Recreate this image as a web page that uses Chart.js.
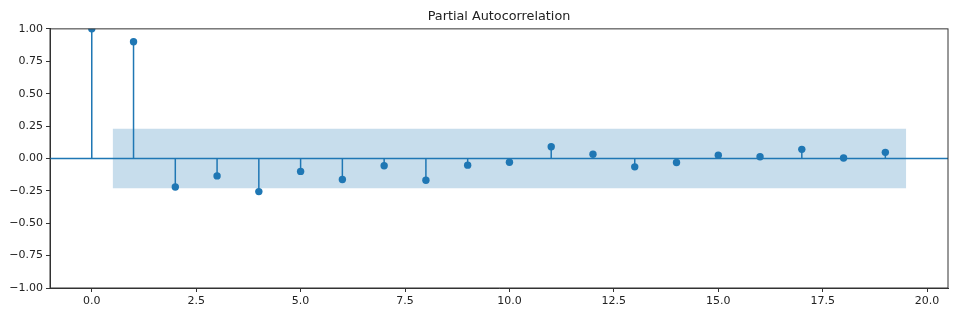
<!DOCTYPE html>
<html>
<head>
<meta charset="utf-8">
<script src="https://cdn.jsdelivr.net/npm/chart.js@4"></script>
<style>
  html, body { margin: 0; padding: 0; background: #fff; }
  #wrap { width: 957px; height: 318px; }
</style>
</head>
<body>
<div id="wrap"><canvas id="chart-pacf"></canvas></div>
<script>
// PACF values per lag
const lags = [0, 1, 2, 3, 4, 5, 6, 7, 8, 9, 10, 11, 12, 13, 14, 15, 16, 17, 18, 19];
const pacfValues = [1.0, 0.90, -0.22, -0.135, -0.256, -0.10, -0.163, -0.057, -0.168, -0.052,
    -0.029, 0.09, 0.033, -0.065, -0.031, 0.024, 0.013, 0.07, 0.003, 0.047];

// confidence band (spans lag 0.5 .. 19.5)
const bandX = [0.5, 19.5];
const bandUpper = [0.23, 0.23];
const bandLower = -0.23;

const xTickValues = [0, 2.5, 5, 7.5, 10, 12.5, 15, 17.5, 20];
const yTickValues = [-1, -0.75, -0.5, -0.25, 0, 0.25, 0.5, 0.75, 1];
const xRange = [-1, 20.5];
const yRange = [-1, 1];

const blue = '#1f77b4';
const fmt = (v, d) => v.toFixed(d).replace('-', '\u2212');

// stems: (lag,0) -> (lag,value), broken by null points
const stemPoints = lags.flatMap((x, i) => [{ x: x, y: 0 }, { x: x, y: pacfValues[i] }, { x: x, y: null }]);

// top/right spines (matplotlib draws a full frame)
const framePlugin = {
    id: 'frame',
    afterDraw(chart) {
        const { ctx, chartArea: a } = chart;
        ctx.save();
        ctx.strokeStyle = '#333';
        ctx.lineWidth = 1;
        ctx.strokeRect(a.left, a.top, a.right - a.left, a.bottom - a.top);
        ctx.restore();
    },
};

new Chart(document.getElementById('chart-pacf'), {
    type: 'scatter',
    data: {
        datasets: [
            {
                data: bandX.map((x, i) => ({ x: x, y: bandUpper[i] })),
                showLine: true,
                borderWidth: 0,
                pointRadius: 0,
                backgroundColor: 'rgba(31, 119, 180, 0.25)',
                fill: { value: bandLower },
                order: 4,
            },
            {
                data: [{ x: xRange[0], y: 0 }, { x: xRange[1], y: 0 }],
                showLine: true,
                borderColor: blue,
                borderWidth: 1.5,
                pointRadius: 0,
                order: 3,
            },
            {
                data: stemPoints,
                showLine: true,
                spanGaps: false,
                borderColor: blue,
                borderWidth: 1.5,
                pointRadius: 0,
                order: 2,
            },
            {
                data: lags.map((x, i) => ({ x: x, y: pacfValues[i] })),
                showLine: false,
                pointRadius: 3.7,
                pointBorderWidth: 0,
                backgroundColor: blue,
                borderColor: blue,
                order: 1,
            },
        ],
    },
    options: {
        responsive: true,
        maintainAspectRatio: false,
        animation: false,
        layout: { padding: { left: 0, right: 9, top: 0, bottom: 0 } },
        plugins: {
            legend: { display: false },
            tooltip: { enabled: false },
            title: {
                display: true,
                text: 'Partial Autocorrelation',
                fullSize: false,
                color: '#222',
                font: { family: 'DejaVu Sans', size: 12.8, weight: 'normal' },
                padding: { top: 8.5, bottom: 5 },
            },
        },
        scales: {
            x: {
                type: 'linear',
                min: xRange[0],
                max: xRange[1],
                afterBuildTicks: scale => { scale.ticks = xTickValues.map(v => ({ value: v })); },
                afterFit: scale => { scale.height = 30; },
                ticks: {
                    color: '#222',
                    padding: 3,
                    maxRotation: 0,
                    font: { family: 'DejaVu Sans', size: 11 },
                    callback: v => fmt(v, 1),
                },
                grid: { drawOnChartArea: false, drawTicks: true, tickLength: 4, color: '#333' },
                border: { color: '#333', width: 1 },
            },
            y: {
                type: 'linear',
                min: yRange[0],
                max: yRange[1],
                afterBuildTicks: scale => { scale.ticks = yTickValues.map(v => ({ value: v })); },
                afterFit: scale => { scale.width = 50; },
                ticks: {
                    color: '#222',
                    padding: 3,
                    font: { family: 'DejaVu Sans', size: 11 },
                    callback: v => fmt(v, 2),
                },
                grid: { drawOnChartArea: false, drawTicks: true, tickLength: 4, color: '#333' },
                border: { color: '#333', width: 1 },
            },
        },
    },
    plugins: [framePlugin],
});
</script>
</body>
</html>
